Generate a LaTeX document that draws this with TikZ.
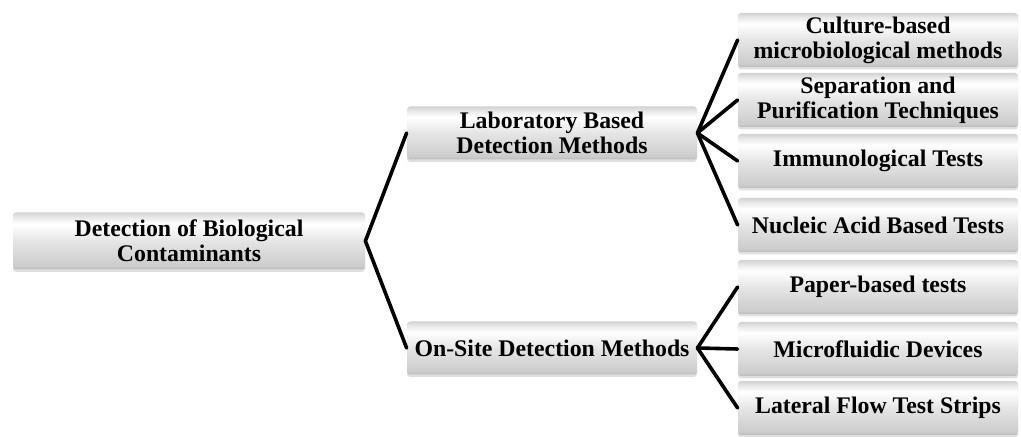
\documentclass[tikz,border=0pt]{standalone}
\usepackage{fontspec}
\setmainfont{Liberation Serif}
\usetikzlibrary{
    positioning,
    shadows
}
\pgfdeclareverticalshading{bevel}{100bp}{color(0bp)=(gray!55); color(25bp)=(gray!55); color(28bp)=(gray!40); color(50bp)=(gray!20); color(65bp)=(white); color(71bp)=(gray!18); color(75bp)=(gray!35); color(100bp)=(gray!35)}
\tikzset{
    % Boxes
    method box/.style={shading=bevel, rounded corners=1.5pt, align=center, inner sep=1pt,
        font=\bfseries\fontsize{11.9}{12.5}\selectfont,
        drop shadow={shadow xshift=0pt, shadow yshift=-1.2pt, opacity=0.25}},
    root box/.style={method box, minimum width=176pt, minimum height=28.5pt},
    mid box/.style={method box, minimum width=145pt, minimum height=26.5pt},
    leaf box/.style={method box, minimum width=140pt, minimum height=27pt},
    %
    % Connectors
    branch/.style={line width=1.8pt, line cap=round, line join=round}
}

\begin{document}
\begin{tikzpicture}[x=0.5pt, y=-0.5pt]
        \useasboundingbox (0,0) rectangle (1021,437);

        \node[root box] (detect) at (189,241) {Detection of Biological\\Contaminants};

        \node[mid box] (lab) at (552,133) {Laboratory Based\\Detection Methods};
        \node[mid box] (onsite) at (552,348) {On-Site Detection Methods};

        \node[leaf box] (culture) at (878,40) {Culture-based\\microbiological methods};
        \node[leaf box] (separation) at (878,100) {Separation and\\Purification Techniques};
        \node[leaf box] (immuno) at (878,161) {Immunological Tests};
        \node[leaf box] (nucleic) at (878,225) {Nucleic Acid Based Tests};
        \node[leaf box] (paper) at (878,287) {Paper-based tests};
        \node[leaf box] (microfl) at (878,349) {Microfluidic Devices};
        \node[leaf box] (lateral) at (878,408) {Lateral Flow Test Strips};

        \draw[branch] (lab.west) -- (detect.east) -- (onsite.west);
        \foreach \leaf in {culture,separation,immuno,nucleic}
            \draw[branch] (lab.east) -- (\leaf.west);
        \foreach \leaf in {paper,microfl,lateral}
            \draw[branch] (onsite.east) -- (\leaf.west);
    \end{tikzpicture}
\end{document}
